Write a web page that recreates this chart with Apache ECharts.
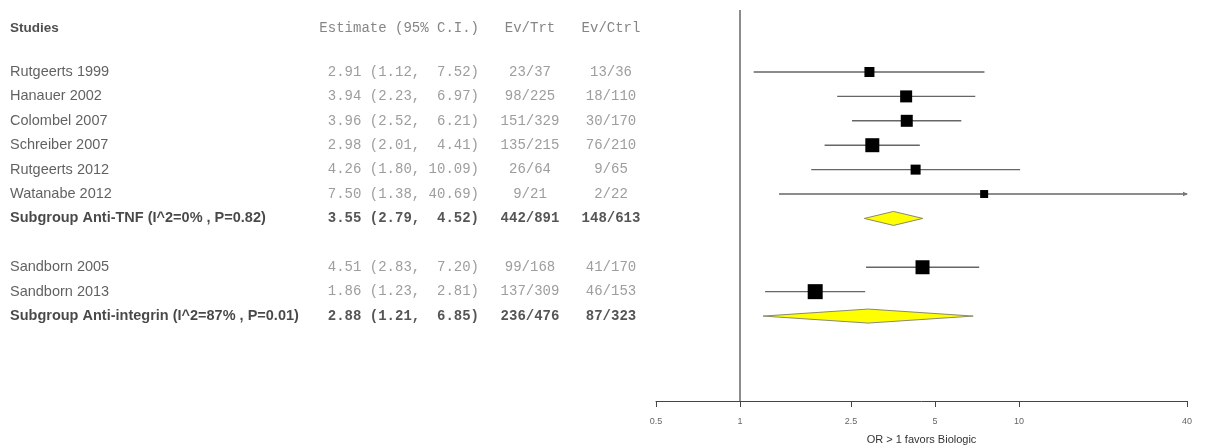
<!DOCTYPE html>
<html>
<head>
<meta charset="utf-8">
<script src="https://cdn.jsdelivr.net/npm/echarts@6/dist/echarts.min.js"></script>
<style>
  html, body { margin: 0; padding: 0; background: #ffffff; }
  #chart { width: 1206px; height: 447px; }
</style>
</head>
<body>
<div id="chart"></div>
<script>
// Forest plot: odds ratios of biologics by subgroup (row 7 is the spacer between subgroups)
const studies = [
  'Rutgeerts 1999', 'Hanauer 2002', 'Colombel 2007', 'Schreiber 2007',
  'Rutgeerts 2012', 'Watanabe 2012', 'Subgroup Anti-TNF (I^2=0% , P=0.82)', '',
  'Sandborn 2005', 'Sandborn 2013', 'Subgroup Anti-integrin (I^2=87% , P=0.01)'
];
const estimate = [2.91, 3.94, 3.96, 2.98, 4.26, 7.50, 3.55, null, 4.51, 1.86, 2.88];
const lower    = [1.12, 2.23, 2.52, 2.01, 1.80, 1.38, 2.79, null, 2.83, 1.23, 1.21];
const upper    = [7.52, 6.97, 6.21, 4.41, 10.09, 40.69, 4.52, null, 7.20, 2.81, 6.85];
const evTrt  = ['23/37', '98/225', '151/329', '135/215', '26/64', '9/21', '442/891', '', '99/168', '137/309', '236/476'];
const evCtrl = ['13/36', '18/110', '30/170', '76/210', '9/65', '2/22', '148/613', '', '41/170', '46/153', '87/323'];
const isSummary = [false, false, false, false, false, false, true, false, false, false, true];
const headers = ['Studies', 'Estimate (95% C.I.)', 'Ev/Trt', 'Ev/Ctrl'];
const tickValues = [0.5, 1, 2.5, 5, 10, 40];
const axisTitle = 'OR > 1 favors Biologic';

// Styling: box side length (px) per study row
const boxSizes = [10, 12, 12, 14, 10, 8, 0, 0, 14, 15, 0];

// Layout
const HEADER_ROW = -1.8;
const ROW_MIN = -2.54, ROW_MAX = 13.48;
const GRID_TOP = 10, GRID_BOTTOM = 46;
const PLOT_LEFT = 656, PLOT_RIGHT = 19;
const COL_STUDY = 10, COL_EST_END = 479, COL_TRT = 530, COL_CTRL = 611;
const X_MIN = Math.log(tickValues[0]);
const X_MAX = Math.log(tickValues[tickValues.length - 1]);

const sansFont = '"Liberation Sans", Arial, sans-serif';
const monoFont = '"Liberation Mono", "DejaVu Sans Mono", monospace';

function fmtEst(i) {
  const hi = upper[i].toFixed(2);
  return estimate[i].toFixed(2) + ' (' + lower[i].toFixed(2) + ', ' + hi.padStart(5, ' ') + ')';
}

// Text table items
const studyText = [], estText = [], trtText = [], ctrlText = [];
studyText.push({ value: [COL_STUDY, HEADER_ROW], name: headers[0],
  label: { fontWeight: 'bold', color: '#222', fontSize: 13.5 } });
estText.push({ value: [COL_EST_END, HEADER_ROW], name: headers[1] });
trtText.push({ value: [COL_TRT, HEADER_ROW], name: headers[2] });
ctrlText.push({ value: [COL_CTRL, HEADER_ROW], name: headers[3] });
studies.forEach((s, i) => {
  if (!s) return;
  const bold = isSummary[i];
  const sLabel = bold ? { fontWeight: 'bold', color: '#1a1a1a' } : { color: '#3a3a3a' };
  const mLabel = bold ? { fontWeight: 'bold', color: '#2a2a2a' } : { color: '#858585' };
  studyText.push({ value: [COL_STUDY, i], name: s, label: sLabel });
  estText.push({ value: [COL_EST_END, i], name: fmtEst(i), label: mLabel });
  trtText.push({ value: [COL_TRT, i], name: evTrt[i], label: mLabel });
  ctrlText.push({ value: [COL_CTRL, i], name: evCtrl[i], label: mLabel });
});

// Plot items (log odds ratio on x)
const ciData = [], boxData = [], diamondData = [];
studies.forEach((s, i) => {
  if (estimate[i] == null) return;
  const row = [Math.log(lower[i]), i, Math.log(upper[i]), Math.log(estimate[i])];
  if (isSummary[i]) {
    diamondData.push(row);
  } else {
    ciData.push(row);
    boxData.push({ value: [Math.log(estimate[i]), i], symbolSize: boxSizes[i] });
  }
});

function textSeries(data, position, fontFamily, fontSize) {
  return {
    type: 'scatter', xAxisIndex: 1, yAxisIndex: 1, symbolSize: 0, silent: true,
    data: data,
    label: {
      show: true, position: position, distance: 0,
      formatter: p => p.name,
      fontFamily: fontFamily, fontSize: fontSize, color: '#666'
    }
  };
}

const chart = echarts.init(document.getElementById('chart'), null, { renderer: 'canvas' });

chart.setOption({
  animation: false,
  backgroundColor: '#ffffff',
  grid: [
    { left: PLOT_LEFT, right: PLOT_RIGHT, top: GRID_TOP, bottom: GRID_BOTTOM,
      containLabel: false, outerBoundsMode: 'none' },
    { left: 0, width: PLOT_LEFT, top: GRID_TOP, bottom: GRID_BOTTOM,
      containLabel: false, outerBoundsMode: 'none' }
  ],
  xAxis: [
    {
      gridIndex: 0, type: 'value', min: X_MIN, max: X_MAX,
      axisLine: { show: true, onZero: false, lineStyle: { color: '#444', width: 1 } },
      axisTick: { show: true, length: 6, inside: false,
        customValues: tickValues.map(Math.log),
        lineStyle: { color: '#444', width: 1 } },
      axisLabel: {
        show: true, customValues: tickValues.map(Math.log), margin: 16,
        fontSize: 9, color: '#666', fontFamily: sansFont,
        formatter: v => String(+Math.exp(v).toFixed(2))
      },
      splitLine: { show: false },
      name: axisTitle, nameLocation: 'middle', nameGap: 33,
      nameTextStyle: { fontSize: 11, color: '#333', fontFamily: sansFont }
    },
    { gridIndex: 1, type: 'value', min: 0, max: PLOT_LEFT, show: false }
  ],
  yAxis: [
    { gridIndex: 0, type: 'value', inverse: true, min: ROW_MIN, max: ROW_MAX, show: false },
    { gridIndex: 1, type: 'value', inverse: true, min: ROW_MIN, max: ROW_MAX, show: false }
  ],
  series: [
    // Confidence interval whiskers
    {
      type: 'custom', xAxisIndex: 0, yAxisIndex: 0, silent: true,
      data: ciData,
      renderItem: function (params, api) {
        const row = api.value(1);
        const lo = api.value(0), hi = api.value(2);
        const p1 = api.coord([Math.max(lo, X_MIN), row]);
        const p2 = api.coord([Math.min(hi, X_MAX), row]);
        const children = [{
          type: 'line',
          shape: { x1: p1[0], y1: p1[1], x2: p2[0], y2: p2[1] },
          style: { stroke: '#666', lineWidth: 1.4 }
        }];
        if (hi > X_MAX) {
          children.push({
            type: 'polygon',
            shape: { points: [[p2[0] + 1, p2[1]], [p2[0] - 4, p2[1] - 2.2], [p2[0] - 4, p2[1] + 2.2]] },
            style: { fill: '#777' }
          });
        }
        return { type: 'group', children: children };
      },
      markLine: {
        silent: true, symbol: 'none', label: { show: false },
        lineStyle: { color: '#666', width: 1.5, type: 'solid' },
        data: [{ xAxis: 0 }]
      }
    },
    // Study point estimates
    {
      type: 'scatter', xAxisIndex: 0, yAxisIndex: 0, silent: true,
      symbol: 'rect', itemStyle: { color: '#000', opacity: 1 },
      data: boxData
    },
    // Subgroup pooled estimates
    {
      type: 'custom', xAxisIndex: 0, yAxisIndex: 0, silent: true,
      data: diamondData,
      renderItem: function (params, api) {
        const row = api.value(1);
        const a = api.coord([api.value(0), row]);
        const b = api.coord([api.value(2), row]);
        const c = api.coord([api.value(3), row]);
        const h = 7;
        return {
          type: 'polygon',
          shape: { points: [[a[0], a[1]], [c[0], c[1] - h], [b[0], b[1]], [c[0], c[1] + h]] },
          style: { fill: '#ffff00', stroke: '#8a8a6a', lineWidth: 1 }
        };
      }
    },
    // Table columns
    textSeries(studyText, 'right', sansFont, 14.5),
    textSeries(estText, 'left', monoFont, 14),
    textSeries(trtText, 'inside', monoFont, 14),
    textSeries(ctrlText, 'inside', monoFont, 14)
  ]
});
</script>
</body>
</html>
